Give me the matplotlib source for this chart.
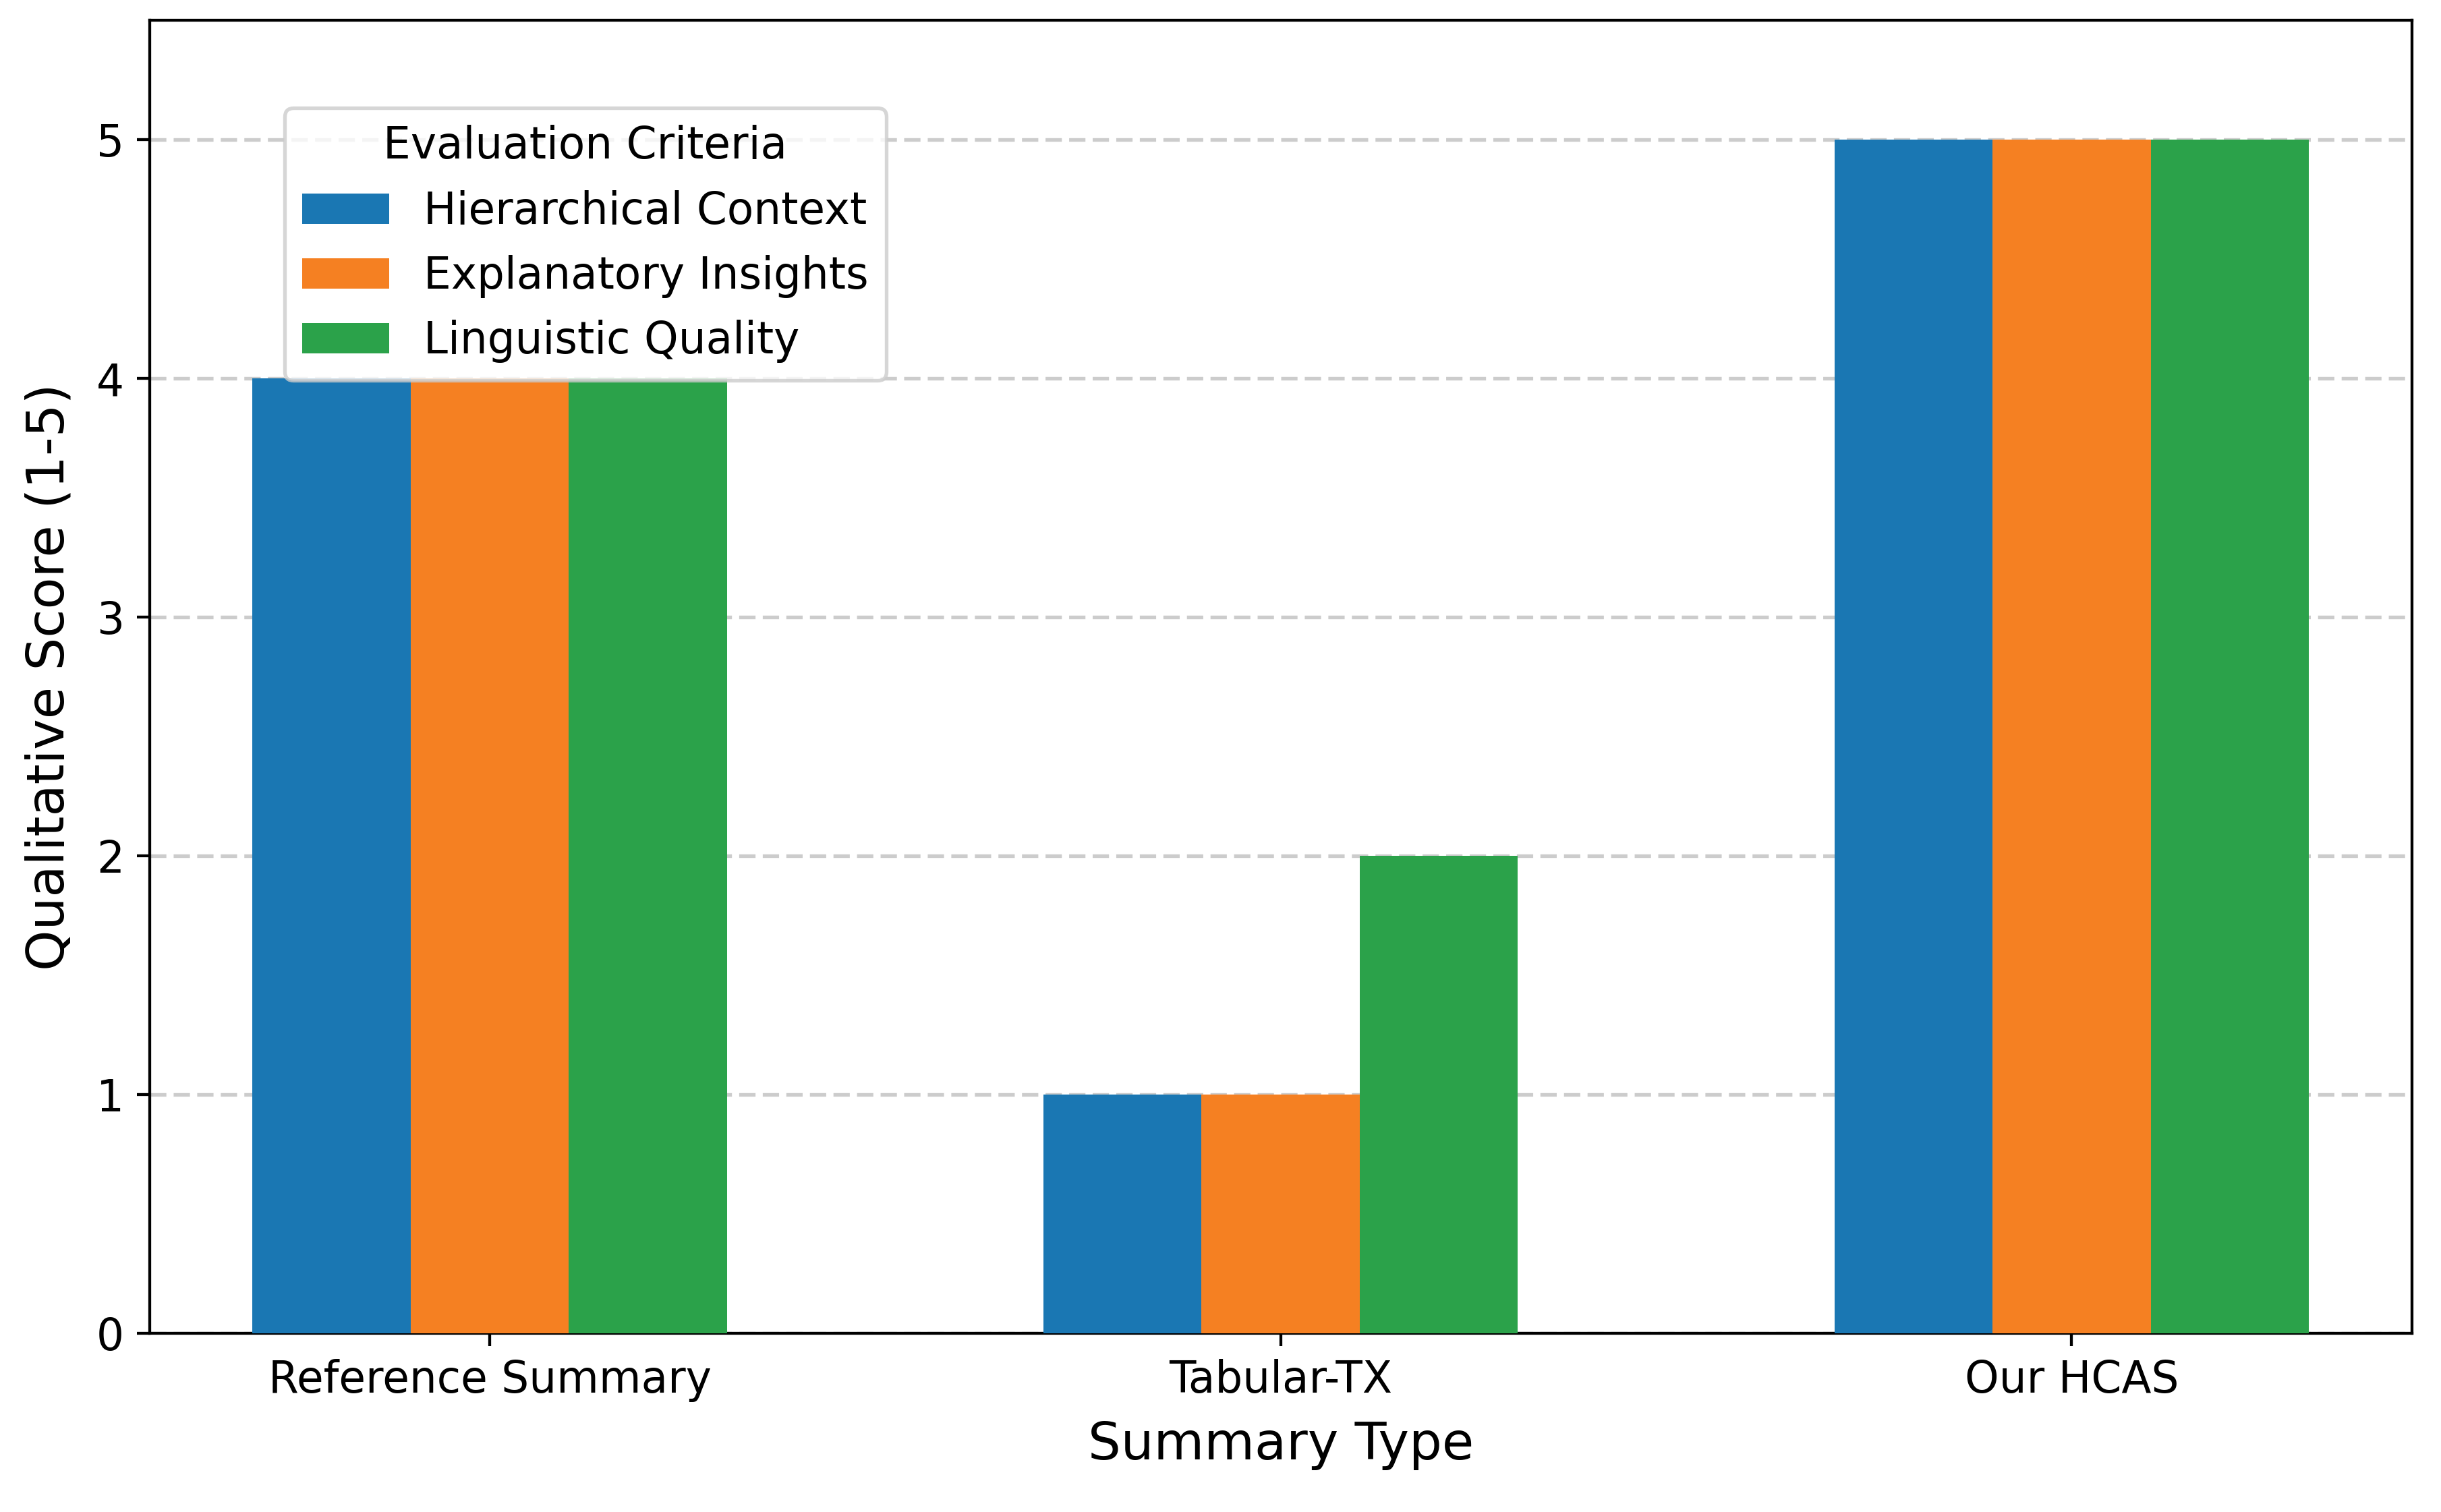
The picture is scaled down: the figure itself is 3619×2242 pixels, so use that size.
import matplotlib
matplotlib.use("Agg")
import matplotlib.pyplot as plt
import numpy as np

categories = ["Reference Summary", "Tabular-TX", "Our HCAS"]
criteria = ["Hierarchical Context", "Explanatory Insights", "Linguistic Quality"]
hierarchical = [4, 1, 5]
explanatory = [4, 1, 5]
linguistic = [4, 2, 5]
series = [hierarchical, explanatory, linguistic]
colors = ["#1a77b3", "#f58022", "#2ba24a"]

DPI = 387
fig = plt.figure(figsize=(3619/DPI, 2242/DPI), dpi=DPI)
ax = fig.add_axes([0.0613, 0.118, 0.9267, 0.8686])
x = np.arange(len(categories))
w = 0.2
for i, (vals, name) in enumerate(zip(series, criteria)):
    ax.bar(x + (i - 1) * w, vals, w, label=name, color=colors[i], zorder=3)

ax.set_ylim(0, 5.5)
ax.set_xticks(x)
ax.set_xticklabels(categories, fontsize=12)
ax.tick_params(axis="y", labelsize=12)
ax.set_xlabel("Summary Type", fontsize=14.3, labelpad=5)
ax.set_ylabel("Qualitative Score (1-5)", fontsize=14.3, labelpad=6)
ax.yaxis.grid(True, linestyle=(0, (4.5, 2)), linewidth=1.0, color="#cccccc", zorder=0)
ax.set_axisbelow(True)
ax.legend(title="Evaluation Criteria", loc="upper left", bbox_to_anchor=(0.05, 0.95),
          fontsize=12, title_fontsize=12)
fig.savefig("out.png", dpi=DPI)
